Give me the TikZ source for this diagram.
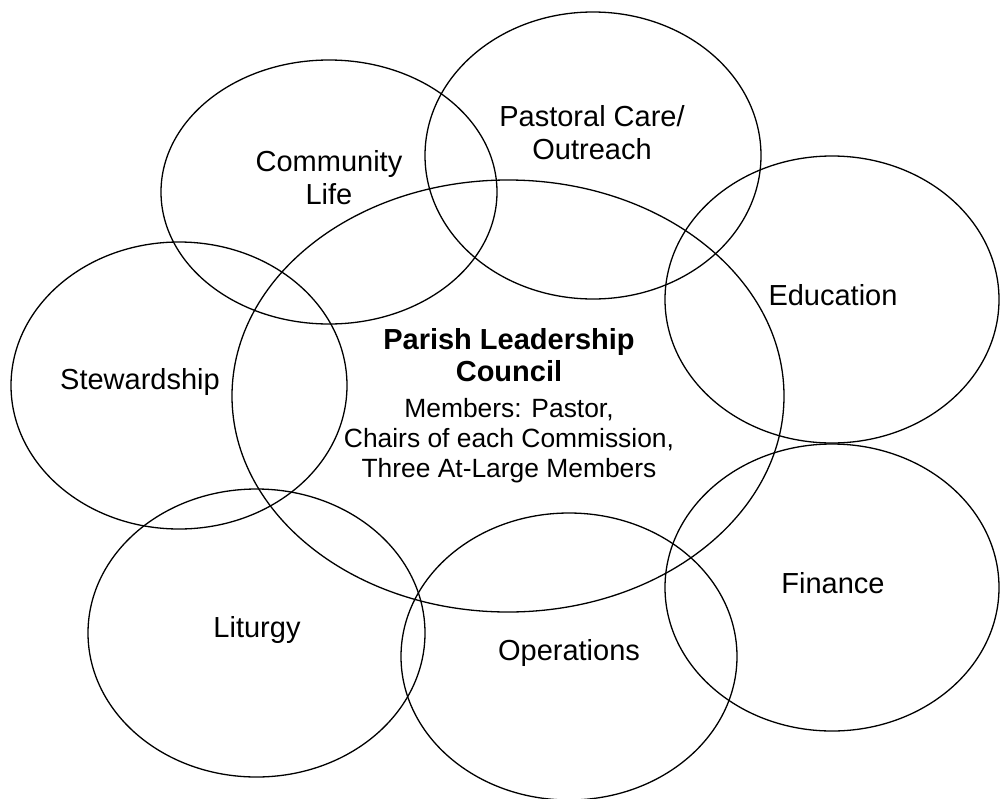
\documentclass[tikz,border=0pt]{standalone}
\usepackage{fontspec}
\setmainfont{Liberation Sans}
\begin{document}
\begin{tikzpicture}[x=1pt,y=-1pt,
  ring/.style={draw=black,line width=1.3pt},
  lab/.style={align=center,font=\fontsize{29}{33}\selectfont,inner sep=0pt},
  council/.style={align=center,font=\fontsize{26.4}{30}\selectfont,inner sep=0pt}]
\useasboundingbox (0,0) rectangle (1001,798);
% circles
\draw[ring] (329,192) ellipse [x radius=168, y radius=132];
\draw[ring] (593,155.5) ellipse [x radius=168, y radius=143.5];
\draw[ring] (832,299.5) ellipse [x radius=167, y radius=143.5];
\draw[ring] (179,385.5) ellipse [x radius=168, y radius=143.5];
\draw[ring] (508,396) ellipse [x radius=276, y radius=216];
\draw[ring] (832,587.5) ellipse [x radius=167, y radius=143.5];
\draw[ring] (256.5,633) ellipse [x radius=168.5, y radius=144];
\draw[ring] (569,656.5) ellipse [x radius=168, y radius=143.5];
% labels
\node[lab] (community) at (329,178) {Community\\Life};
\node[lab] (pastoral) at (592,133) {Pastoral Care/\\Outreach};
\node[lab] (education) at (833,295) {Education};
\node[lab] (stewardship) at (140,382) {Stewardship};
\node[lab] (finance) at (833,583) {Finance};
\node[lab] (liturgy) at (257,630) {Liturgy};
\node[lab] (operations) at (569,653) {Operations};
\node[council] (plc) at (509,406) {{\fontsize{29}{32}\selectfont\bfseries Parish Leadership}\\[2pt]{\fontsize{29}{32}\selectfont\bfseries Council}\\[6pt]Members: Pastor,\\Chairs of each Commission,\\Three At-Large Members};
\end{tikzpicture}
\end{document}
